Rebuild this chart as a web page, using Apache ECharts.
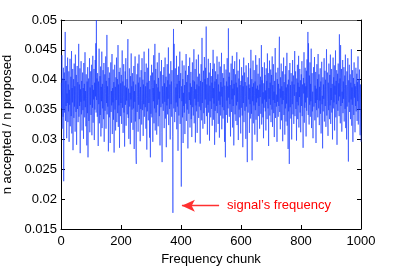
<!DOCTYPE html>
<html><head><meta charset="utf-8">
<script src="https://cdn.jsdelivr.net/npm/echarts@6/dist/echarts.min.js"></script>
<style>html,body{margin:0;padding:0;background:#fff}#c{width:399px;height:267px}</style>
</head><body><div id="c"></div>
<script>
// ratio of accepted to proposed, one value per frequency chunk (1..1000)
const ratioValues = [
.0395,.0352,.0441,.0318,.0376,.0402,.0338,.0420,.0230,.0365,.0412,.0345,.0389,.0480,.0331,.0398,.0356,.0423,.0302,.0377,
.0361,.0437,.0329,.0392,.0347,.0414,.0296,.0383,.0358,.0435,.0322,.0371,.0405,.0339,.0448,.0310,.0386,.0362,.0418,.0282,
.0374,.0401,.0336,.0427,.0355,.0389,.0313,.0442,.0367,.0346,.0408,.0291,.0380,.0423,.0351,.0396,.0329,.0373,.0460,.0338,
.0392,.0356,.0419,.0277,.0384,.0363,.0431,.0342,.0398,.0315,.0375,.0412,.0349,.0386,.0301,.0428,.0365,.0393,.0337,.0446,
.0354,.0381,.0322,.0409,.0368,.0290,.0397,.0344,.0421,.0270,.0379,.0402,.0331,.0363,.0436,.0312,.0387,.0358,.0414,.0341,
.0376,.0425,.0307,.0391,.0353,.0440,.0328,.0383,.0367,.0418,.0299,.0395,.0350,.0433,.0372,.0461,.0345,.0500,.0366,.0402,
.0338,.0411,.0384,.0289,.0397,.0359,.0452,.0327,.0378,.0406,.0341,.0422,.0305,.0388,.0364,.0447,.0319,.0393,.0352,.0416,
.0371,.0334,.0428,.0296,.0385,.0409,.0348,.0377,.0439,.0318,.0398,.0361,.0475,.0342,.0389,.0355,.0421,.0280,.0374,.0403,
.0337,.0412,.0365,.0294,.0391,.0429,.0346,.0381,.0357,.0443,.0309,.0386,.0362,.0417,.0333,.0396,.0278,.0369,.0425,.0350,
.0388,.0315,.0404,.0366,.0437,.0329,.0379,.0401,.0344,.0458,.0321,.0392,.0357,.0413,.0286,.0375,.0420,.0339,.0394,.0361,
.0408,.0326,.0382,.0449,.0353,.0397,.0311,.0372,.0426,.0345,.0390,.0288,.0379,.0414,.0358,.0436,.0323,.0387,.0365,.0401,
.0342,.0430,.0468,.0336,.0385,.0301,.0393,.0419,.0355,.0378,.0292,.0406,.0367,.0444,.0328,.0389,.0350,.0411,.0374,.0316,
.0397,.0352,.0423,.0284,.0381,.0363,.0439,.0330,.0392,.0272,.0259,.0386,.0409,.0346,.0372,.0427,.0313,.0395,.0358,.0442,
.0334,.0378,.0404,.0297,.0388,.0351,.0416,.0365,.0325,.0436,.0383,.0349,.0400,.0306,.0392,.0359,.0447,.0338,.0376,.0413,
.0354,.0389,.0318,.0427,.0369,.0283,.0395,.0347,.0420,.0371,.0332,.0452,.0361,.0398,.0303,.0384,.0356,.0270,.0407,.0343,
.0390,.0425,.0337,.0373,.0412,.0296,.0386,.0364,.0441,.0327,.0399,.0352,.0460,.0315,.0381,.0418,.0345,.0393,.0308,.0376,
.0429,.0358,.0387,.0322,.0403,.0367,.0445,.0339,.0380,.0290,.0396,.0414,.0354,.0371,.0433,.0312,.0262,.0389,.0360,.0408,
.0348,.0381,.0421,.0319,.0394,.0363,.0437,.0335,.0376,.0405,.0287,.0388,.0357,.0426,.0342,.0399,.0368,.0454,.0324,.0383,
.0410,.0351,.0392,.0300,.0378,.0431,.0359,.0397,.0338,.0416,.0366,.0305,.0177,.0384,.0485,.0352,.0460,.0395,.0329,.0372,
.0419,.0346,.0387,.0362,.0440,.0317,.0393,.0355,.0408,.0281,.0375,.0422,.0340,.0398,.0369,.0447,.0326,.0385,.0411,.0353,
.0221,.0389,.0364,.0432,.0337,.0401,.0294,.0378,.0356,.0424,.0345,.0391,.0309,.0383,.0415,.0360,.0443,.0331,.0396,.0372,
.0350,.0408,.0285,.0386,.0423,.0343,.0379,.0366,.0437,.0320,.0394,.0358,.0413,.0334,.0388,.0304,.0375,.0429,.0354,.0399,
.0340,.0382,.0451,.0327,.0397,.0368,.0418,.0295,.0384,.0357,.0434,.0347,.0392,.0311,.0377,.0405,.0363,.0442,.0336,.0389,
.0355,.0410,.0372,.0293,.0398,.0349,.0426,.0383,.0332,.0470,.0361,.0396,.0318,.0387,.0415,.0344,.0379,.0438,.0326,.0401,
.0367,.0420,.0353,.0489,.0339,.0392,.0378,.0308,.0403,.0358,.0435,.0345,.0384,.0412,.0298,.0390,.0364,.0428,.0337,.0381,
.0406,.0351,.0395,.0323,.0418,.0369,.0450,.0333,.0386,.0360,.0427,.0291,.0397,.0348,.0414,.0375,.0312,.0401,.0356,.0439,
.0344,.0383,.0409,.0326,.0392,.0365,.0430,.0303,.0380,.0358,.0422,.0340,.0396,.0372,.0445,.0317,.0388,.0354,.0411,.0335,
.0378,.0403,.0349,.0426,.0296,.0390,.0362,.0270,.0384,.0417,.0341,.0397,.0365,.0436,.0328,.0389,.0352,.0486,.0370,.0405,
.0338,.0412,.0359,.0391,.0305,.0381,.0427,.0346,.0399,.0367,.0440,.0320,.0385,.0356,.0418,.0290,.0393,.0374,.0431,.0342,
.0380,.0409,.0331,.0395,.0357,.0446,.0324,.0387,.0363,.0415,.0299,.0378,.0402,.0350,.0434,.0337,.0391,.0368,.0310,.0398,
.0353,.0421,.0376,.0340,.0407,.0287,.0389,.0361,.0437,.0329,.0383,.0412,.0348,.0396,.0372,.0301,.0424,.0355,.0390,.0318,
.0262,.0381,.0404,.0345,.0428,.0367,.0392,.0311,.0386,.0359,.0419,.0335,.0450,.0378,.0343,.0401,.0265,.0388,.0364,.0432,
.0327,.0394,.0357,.0416,.0374,.0308,.0397,.0349,.0441,.0333,.0385,.0362,.0425,.0296,.0390,.0369,.0410,.0339,.0383,.0356,
.0436,.0318,.0392,.0371,.0405,.0343,.0387,.0458,.0325,.0399,.0360,.0421,.0337,.0379,.0302,.0394,.0353,.0429,.0367,.0408,
.0347,.0382,.0315,.0419,.0363,.0398,.0334,.0444,.0375,.0352,.0411,.0289,.0386,.0368,.0432,.0340,.0395,.0358,.0417,.0329,
.0384,.0408,.0350,.0439,.0321,.0391,.0366,.0426,.0344,.0380,.0304,.0398,.0361,.0453,.0336,.0388,.0412,.0355,.0375,.0296,
.0401,.0363,.0420,.0338,.0393,.0356,.0435,.0472,.0346,.0385,.0317,.0404,.0370,.0427,.0332,.0389,.0359,.0414,.0297,.0381,
.0366,.0437,.0341,.0396,.0374,.0308,.0409,.0352,.0423,.0330,.0387,.0360,.0445,.0323,.0392,.0368,.0284,.0400,.0347,.0416,
.0259,.0378,.0428,.0354,.0391,.0335,.0411,.0369,.0300,.0397,.0359,.0433,.0342,.0384,.0407,.0326,.0392,.0373,.0448,.0339,
.0386,.0414,.0351,.0379,.0298,.0402,.0363,.0425,.0334,.0395,.0357,.0440,.0320,.0388,.0371,.0418,.0345,.0399,.0312,.0383,
.0409,.0356,.0431,.0339,.0392,.0367,.0286,.0403,.0377,.0446,.0328,.0394,.0353,.0420,.0362,.0389,.0305,.0415,.0348,.0434,
.0370,.0398,.0480,.0341,.0461,.0384,.0325,.0407,.0358,.0429,.0338,.0393,.0364,.0452,.0319,.0386,.0411,.0347,.0380,.0302,
.0396,.0421,.0355,.0374,.0438,.0332,.0390,.0361,.0413,.0294,.0385,.0349,.0426,.0366,.0401,.0337,.0443,.0376,.0352,.0409,
.0324,.0388,.0365,.0419,.0343,.0397,.0310,.0382,.0430,.0359,.0373,.0285,.0404,.0347,.0392,.0368,.0436,.0330,.0384,.0415,
.0356,.0400,.0321,.0389,.0451,.0340,.0378,.0412,.0363,.0306,.0395,.0349,.0427,.0371,.0334,.0408,.0357,.0442,.0326,.0386,
.0366,.0418,.0345,.0393,.0300,.0381,.0437,.0352,.0404,.0362,.0424,.0315,.0390,.0375,.0449,.0337,.0398,.0359,.0416,.0291,
.0383,.0410,.0348,.0427,.0365,.0394,.0339,.0476,.0372,.0402,.0327,.0458,.0356,.0389,.0418,.0313,.0380,.0361,.0433,.0344,
.0397,.0368,.0421,.0330,.0385,.0407,.0351,.0442,.0319,.0391,.0373,.0300,.0414,.0355,.0388,.0436,.0340,.0263,.0399,.0362,
.0425,.0346,.0382,.0409,.0334,.0395,.0367,.0451,.0323,.0387,.0358,.0416,.0296,.0379,.0403,.0341,.0429,.0370,.0393,.0312,
.0389,.0356,.0420,.0347,.0384,.0410,.0331,.0396,.0364,.0439,.0325,.0378,.0401,.0350,.0417,.0368,.0307,.0392,.0345,.0296
];
const xTicks = [0, 200, 400, 600, 800, 1000];
const yTicks = [0.015, 0.02, 0.025, 0.03, 0.035, 0.04, 0.045, 0.05];
const arrowTail = [527, 0.0189];
const arrowHead = [403, 0.0189];
const annotationText = 'signal\u2019s frequency';

const chunks = ratioValues.map((v, i) => [i + 1, v]);
const font = 'Liberation Sans, Arial, Helvetica, sans-serif';
const lbl = v => String(v);

const chart = echarts.init(document.getElementById('c'), null, {renderer: 'canvas'});
const baseX = {
  type: 'value', min: 0, max: 1000, interval: 200,
  axisLine: {show: true, onZero: false, lineStyle: {color: '#000', width: 1}},
  axisTick: {show: true, inside: true, length: 4, lineStyle: {color: '#000'}},
  splitLine: {show: false}
};
const baseY = {
  type: 'value', min: 0.015, max: 0.05, interval: 0.005,
  axisLine: {show: true, onZero: false, lineStyle: {color: '#000', width: 1}},
  axisTick: {show: true, inside: true, length: 4, lineStyle: {color: '#000'}},
  splitLine: {show: false}
};
chart.setOption({
  animation: false,
  backgroundColor: '#fff',
  grid: {left: 61, right: 38, top: 20, bottom: 38, containLabel: false, outerBoundsMode: 'none'},
  xAxis: [
    Object.assign({}, baseX, {
      position: 'bottom',
      name: 'Frequency chunk', nameLocation: 'middle', nameGap: 20,
      nameTextStyle: {color: '#000', fontSize: 13, fontFamily: font},
      axisLabel: {color: '#000', fontSize: 13, fontFamily: font, margin: 6,
        formatter: v => xTicks.includes(v) ? lbl(v) : ''}
    }),
    Object.assign({}, baseX, {position: 'top', axisLabel: {show: false},
      axisLine: {show: true, onZero: false, lineStyle: {color: '#666', width: 1}}})
  ],
  yAxis: [
    Object.assign({}, baseY, {
      position: 'left',
      name: 'n accepted / n proposed', nameLocation: 'middle', nameGap: 42,
      nameTextStyle: {color: '#000', fontSize: 13, fontFamily: font},
      axisLabel: {color: '#000', fontSize: 13, fontFamily: font, margin: 4,
        formatter: v => {
          const t = yTicks.find(k => Math.abs(k - v) < 1e-9);
          return t === undefined ? '' : lbl(t);
        }}
    }),
    Object.assign({}, baseY, {position: 'right', axisLabel: {show: false}})
  ],
  series: [{
    type: 'line',
    data: chunks,
    xAxisIndex: 0, yAxisIndex: 0,
    showSymbol: false, symbol: 'none',
    lineStyle: {color: '#1a3cff', width: 0.6},
    silent: true,
    markLine: {
      silent: true,
      symbol: ['none', 'arrow'],
      symbolSize: [9, 13],
      lineStyle: {color: '#ff3030', width: 1.3, type: 'solid'},
      itemStyle: {color: '#ff0000'},
      label: {show: true, position: 'start', formatter: annotationText,
        color: '#ff0000', fontSize: 13, fontFamily: font, distance: 8},
      data: [[{coord: arrowTail}, {coord: arrowHead}]]
    }
  }]
});
</script>
</body></html>
